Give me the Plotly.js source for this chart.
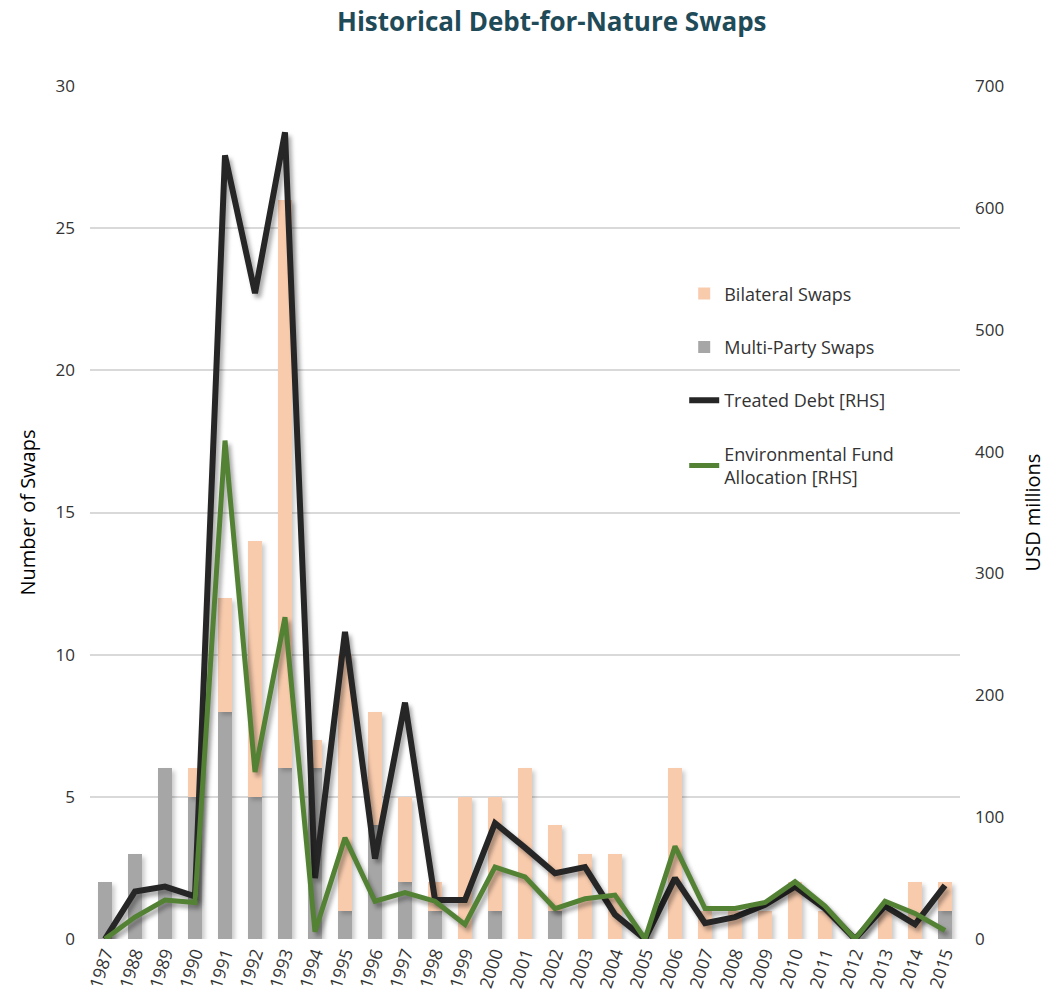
<!DOCTYPE html>
<html>
<head>
<meta charset="utf-8">
<script src="https://cdn.plot.ly/plotly-3.0.1.min.js"></script>
<style>
  html, body { margin: 0; padding: 0; background: #fff; }
  #chart { width: 1051px; height: 1006px; }
</style>
</head>
<body>
<div id="chart"></div>
<script>
var years = ['1987','1988','1989','1990','1991','1992','1993','1994','1995','1996','1997','1998','1999','2000','2001','2002','2003','2004','2005','2006','2007','2008','2009','2010','2011','2012','2013','2014','2015'];
var multiPartySwaps = [2,3,6,5,8,5,6,6,1,4,2,1,0,1,0,1,0,0,0,0,0,0,0,0,0,0,0,0,1];
var bilateralSwaps  = [0,0,0,1,4,9,20,1,9,4,3,1,5,4,6,3,3,3,0,6,1,1,1,2,1,0,1,2,1];
var treatedDebt     = [0,39,43,35,643,530,662,50,252,66,194,32,32,95,75,54,59,20,0,50,13,18,28,43,25,0,27,12,44];
var envFund         = [0,18,32,30,409,137,264,6,83,31,38,31,12,59,51,25,33,36,0,76,25,25,30,47,27,0,31,21,7];

var font = 'Open Sans, sans-serif';
var txt = '#333333';

var data = [
  {type:'bar', x: years, y: multiPartySwaps, name:'Multi-Party Swaps', marker:{color:'#a6a6a6'},
   legendrank: 2, legendgroup:'b', yaxis:'y'},
  {type:'bar', x: years, y: bilateralSwaps, name:'Bilateral Swaps', marker:{color:'#f8cbad'},
   legendrank: 1, legendgroup:'a', yaxis:'y'},
  {type:'scatter', mode:'lines', x: years, y: treatedDebt, name:'Treated Debt [RHS]',
   line:{color:'#262626', width:6}, legendrank: 3, legendgroup:'c', yaxis:'y2'},
  {type:'scatter', mode:'lines', x: years, y: envFund, name:'Environmental Fund<br>Allocation [RHS]',
   line:{color:'#548235', width:5}, legendrank: 4, legendgroup:'d', yaxis:'y2'}
];

var layout = {
  width: 1051, height: 1006,
  margin: {l: 90, r: 91, t: 86, b: 67},
  paper_bgcolor: '#ffffff', plot_bgcolor: '#ffffff',
  font: {family: font, color: txt, size: 16},
  title: {text: '<b>Historical Debt-for-Nature Swaps</b>', x: 0.525, xanchor:'center', y: 0.978, yanchor:'middle',
          font: {family: font, size: 26, color: '#1f4b59'}},
  barmode: 'stack', bargap: 0.52,
  showlegend: true,
  legend: {x: 0.683, y: 0.778, xanchor:'left', yanchor:'top', bgcolor:'rgba(0,0,0,0)',
           font:{family: font, size: 18, color: txt}, tracegroupgap: 27, traceorder:'grouped'},
  xaxis: {type:'category', tickangle: -72, tickfont:{family: font, size: 17.5, color: txt},
          showgrid:false, showline:false, ticks:'', zeroline:false, fixedrange:true},
  yaxis: {range:[0,30], dtick:5, showgrid:true, gridcolor:'#d9d9d9', gridwidth:2,
          zeroline:false, showline:false, ticks:'', ticklabelstandoff: 14,
          tickfont:{family: font, size: 17, color: txt},
          title:{text:'Number of Swaps', font:{family: font, size: 20, color:'#000'}, standoff: 14}},
  yaxis2: {range:[0,700], dtick:100, overlaying:'y', side:'right', showgrid:false, zeroline:false,
           showline:false, ticks:'', ticklabelstandoff: 14,
           tickfont:{family: font, size: 17, color: txt},
           title:{text:'USD millions', font:{family: font, size: 20, color:'#000'}, standoff: 22}}
};

Plotly.newPlot('chart', data, layout, {displayModeBar:false, staticPlot:true}).then(function(){
  document.querySelectorAll('.scatterlayer .trace path.js-line').forEach(function(p){
    p.style.filter = 'drop-shadow(3px 4px 2px rgba(0,0,0,0.35))';
  });
  document.querySelectorAll('.barlayer .trace').forEach(function(p){
    p.style.filter = 'drop-shadow(3px 3px 2px rgba(0,0,0,0.2))';
  });
});
</script>
</body>
</html>
